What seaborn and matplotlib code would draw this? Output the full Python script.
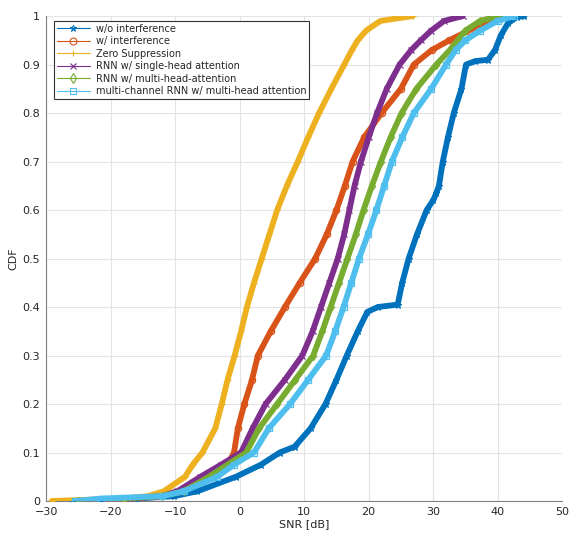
import numpy as np
import pandas as pd
import matplotlib
matplotlib.use("Agg")
import matplotlib.pyplot as plt
from matplotlib.lines import Line2D
import seaborn as sns

# ---- data: SNR quantiles (dB) read at CDF levels ----
labels = ["w/o interference", "w/ interference", "Zero Suppression",
          "RNN w/ single-head attention", "RNN w/ multi-head-attention",
          "multi-channel RNN w/ multi-head attention"]

cdf_wo = [0, 0.002, 0.005, 0.01, 0.02, 0.05, 0.075, 0.1, 0.112, 0.15, 0.2, 0.25, 0.3, 0.35,
          0.39, 0.4, 0.405, 0.45, 0.5, 0.55, 0.6, 0.62, 0.635, 0.65, 0.7, 0.75, 0.8, 0.85,
          0.9, 0.907, 0.91, 0.93, 0.96, 0.985, 0.998, 1.0]
snr_wo = [-26, -21.6, -16, -10.2, -6.6, -0.6, 3.3, 6.2, 8.5, 11.0, 13.3, 15.0, 16.6, 18.3,
          19.8, 21.4, 24.5, 25.2, 26.2, 27.5, 29.0, 30.0, 30.5, 30.9, 31.5, 32.3, 33.2, 34.4,
          35.1, 36.5, 38.5, 39.6, 40.5, 41.6, 43.0, 44.1]

cdf_lvl = [0, 0.005, 0.01, 0.02, 0.05, 0.075, 0.1, 0.15, 0.2, 0.25, 0.3, 0.35, 0.4, 0.45,
           0.5, 0.55, 0.6, 0.65, 0.7, 0.75, 0.8, 0.85, 0.9, 0.93, 0.95, 0.97, 0.99, 1.0]
snr_w = [-20, -17, -12.5, -9.5, -5.5, -1.9, -0.9, -0.3, 0.7, 1.9, 2.8, 4.8, 7.0, 9.3,
         11.7, 13.5, 15.0, 16.3, 17.5, 19.3, 22.0, 25.0, 27.0, 29.8, 32.5, 35.5, 38.5, 40.5]
snr_zs = [-29.2, -18, -14.3, -11.8, -8.5, -7.3, -5.8, -3.8, -2.8, -1.9, -0.8, 0.2, 1.1, 2.2,
          3.4, 4.6, 5.8, 7.3, 9.0, 10.6, 12.3, 14.2, 16.2, 17.4, 18.3, 19.6, 21.8, 26.8]
snr_sh = [-21, -17, -12, -9.7, -6.1, -2.9, 0.2, 2.0, 4.0, 7.0, 9.7, 11.3, 12.6, 13.9,
          15.2, 16.2, 17.0, 17.8, 18.8, 20.0, 21.3, 22.8, 24.8, 26.6, 28.1, 29.7, 31.7, 34.6]
snr_mh = [-25, -18, -12, -8.7, -4.8, -1.9, 1.0, 3.0, 5.8, 8.6, 11.4, 12.8, 14.1, 15.4,
          16.7, 18.0, 19.2, 20.5, 21.9, 23.4, 25.1, 27.4, 30.5, 32.6, 33.8, 35.0, 37.3, 40.2]
snr_mc = [-25.5, -21.6, -12, -8.7, -3.5, -0.9, 2.2, 4.5, 7.8, 10.6, 13.4, 14.8, 16.1, 17.3,
          18.5, 19.9, 21.2, 22.4, 23.6, 25.2, 27.0, 29.7, 32.0, 33.5, 35.0, 37.3, 40.0, 42.6]

colors = ["#0072BD", "#D95319", "#EDB120", "#7E2F8E", "#77AC30", "#4DBEEE"]
marker_list = ["*", "o", "+", "x", "d", "s"]

series = [(cdf_wo, snr_wo), (cdf_lvl, snr_w), (cdf_lvl, snr_zs),
          (cdf_lvl, snr_sh), (cdf_lvl, snr_mh), (cdf_lvl, snr_mc)]

# ---- style ----
sns.set_theme(style="white")
plt.rcParams["font.family"] = ["DejaVu Sans"]
plt.rcParams["axes.edgecolor"] = "#808080"
plt.rcParams["xtick.color"] = "#808080"
plt.rcParams["ytick.color"] = "#808080"
plt.rcParams["xtick.labelcolor"] = "#262626"
plt.rcParams["ytick.labelcolor"] = "#262626"

fig = plt.figure(figsize=(5.69, 5.36), dpi=100)
ax = fig.add_axes([0.0817, 0.0653, 0.906, 0.9047])

for lab, (c, s), col, m in zip(labels, series, colors, marker_list):
    d = pd.DataFrame({"snr": s, "cdf": c})
    sns.lineplot(data=d, x="snr", y="cdf", color=col, marker=m, sort=False,
                 estimator=None, linewidth=4.2, markersize=4.5,
                 markerfacecolor="none", markeredgecolor=col, markeredgewidth=0.9,
                 legend=False, ax=ax, zorder=3)

ax.set_xlim(-30, 50)
ax.set_ylim(0, 1)
ax.set_xticks(np.arange(-30, 51, 10))
ax.set_yticks(np.arange(0, 1.01, 0.1))
ax.set_yticklabels(["0", "0.1", "0.2", "0.3", "0.4", "0.5", "0.6", "0.7", "0.8", "0.9", "1"])
ax.grid(True, color="#e3e3e3", linewidth=0.8)
ax.set_axisbelow(True)
for sp in ["top", "right"]:
    ax.spines[sp].set_visible(False)
for sp in ["left", "bottom"]:
    ax.spines[sp].set_linewidth(0.8)
ax.tick_params(direction="in", length=4, width=0.8, labelsize=8)
ax.tick_params(axis="x", pad=4.5)
ax.tick_params(axis="y", pad=4.5)
ax.set_xlabel("SNR [dB]", fontsize=8, color="#262626", labelpad=1)
ax.set_ylabel("CDF", fontsize=8, color="#262626", labelpad=3)

handles = [Line2D([0], [0], color=c, marker=m, markersize=5, linewidth=0.8,
                  markerfacecolor="none", markeredgewidth=0.8)
           for c, m in zip(colors, marker_list)]
leg = ax.legend(handles, labels, loc="upper left", bbox_to_anchor=(0.014, 0.99),
                fontsize=7, frameon=True, fancybox=False, framealpha=1,
                edgecolor="#333333", handlelength=3.4, handletextpad=0.6,
                labelspacing=0.25, borderpad=0.3, borderaxespad=0.0)
leg.get_frame().set_linewidth(0.8)
for t in leg.get_texts():
    t.set_color("#262626")

fig.savefig("out.png", dpi=100)
